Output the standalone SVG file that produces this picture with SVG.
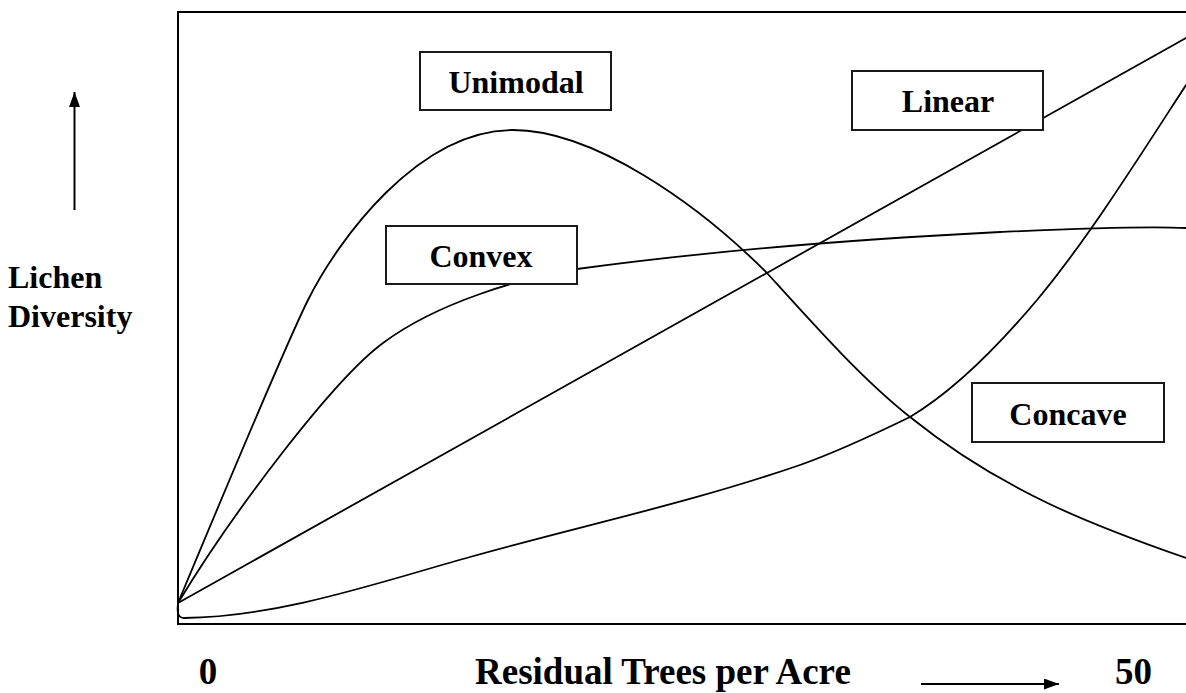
<svg xmlns="http://www.w3.org/2000/svg" width="1186" height="693" viewBox="0 0 1186 693">
  <style>
    .frame { fill: none; stroke: #000; stroke-width: 2; }
    .curve { fill: none; stroke: #000; stroke-width: 1.8; stroke-linecap: round; }
    .box { fill: #fff; stroke: #1a1a1a; stroke-width: 2; }
    .lbl { font-family: "Liberation Serif", "Times New Roman", serif; font-weight: bold; font-size: 32px; fill: #000; }
    .axis { font-family: "Liberation Serif", "Times New Roman", serif; font-weight: bold; font-size: 37px; fill: #000; }
    .arrow { fill: none; stroke: #000; stroke-width: 2; }
  </style>
  <defs>
    <marker id="head" markerUnits="userSpaceOnUse" markerWidth="15" markerHeight="11" refX="15" refY="5.5" orient="auto">
      <path d="M0,0 L15,5.5 L0,11 Z" fill="#000"/>
    </marker>
  </defs>

  <rect width="1186" height="693" fill="#fff"/>

  <!-- plot frame (open on the right) -->
  <path class="frame" d="M1186,12 H178 V624 H1186"/>

  <!-- response curves -->
  <g id="curves">
    <!-- unimodal -->
    <path class="curve" d="M178,603 C203,543 286,344 308,300 C338,240 418,130 513,130 C593,130 697,203 767,273 C815,326 862,379 910,417 C1002,491 1094,526 1186,558"/>
    <!-- convex -->
    <path class="curve" d="M178,603 C233,512 333,380 383,343 C438,302 522,278 577,269 C717,250 860,239 1000,232 C1060,229.3 1140,225.5 1186,228"/>
    <!-- linear -->
    <path class="curve" d="M178,603 L1186,38"/>
    <!-- concave -->
    <path class="curve" d="M178,604 Q176,618 184,618 C280,617 380,582 470,557 C580,526 690,503 800,465 C837,452 873,435 910,417 C952,392 995,350 1037,300 C1087,240 1136,162 1186,85"/>
  </g>

  <!-- axis direction arrows -->
  <g id="axis-arrows">
    <line class="arrow" x1="74.5" y1="210" x2="74.5" y2="92" marker-end="url(#head)"/>
    <line class="arrow" x1="921" y1="684" x2="1059" y2="684" marker-end="url(#head)"/>
  </g>

  <!-- curve labels -->
  <g id="unimodal">
    <rect class="box" x="420" y="52" width="191" height="58"/>
    <text class="lbl" x="516" y="93" text-anchor="middle">Unimodal</text>
  </g>
  <g id="linear">
    <rect class="box" x="852" y="71" width="191" height="59"/>
    <text class="lbl" x="948" y="112" text-anchor="middle">Linear</text>
  </g>
  <g id="convex">
    <rect class="box" x="386" y="226" width="191" height="58"/>
    <text class="lbl" x="481" y="267" text-anchor="middle">Convex</text>
  </g>
  <g id="concave">
    <rect class="box" x="972" y="383" width="192" height="59"/>
    <text class="lbl" x="1068" y="425" text-anchor="middle">Concave</text>
  </g>

  <!-- axis titles -->
  <g id="y-title">
    <text class="lbl" x="8" y="288">Lichen</text>
    <text class="lbl" x="8" y="327">Diversity</text>
  </g>
  <g id="x-title">
    <text class="axis" x="208" y="684" text-anchor="middle">0</text>
    <text class="axis" x="475" y="684">Residual Trees per Acre</text>
    <text class="axis" x="1115" y="684">50</text>
  </g>
</svg>
